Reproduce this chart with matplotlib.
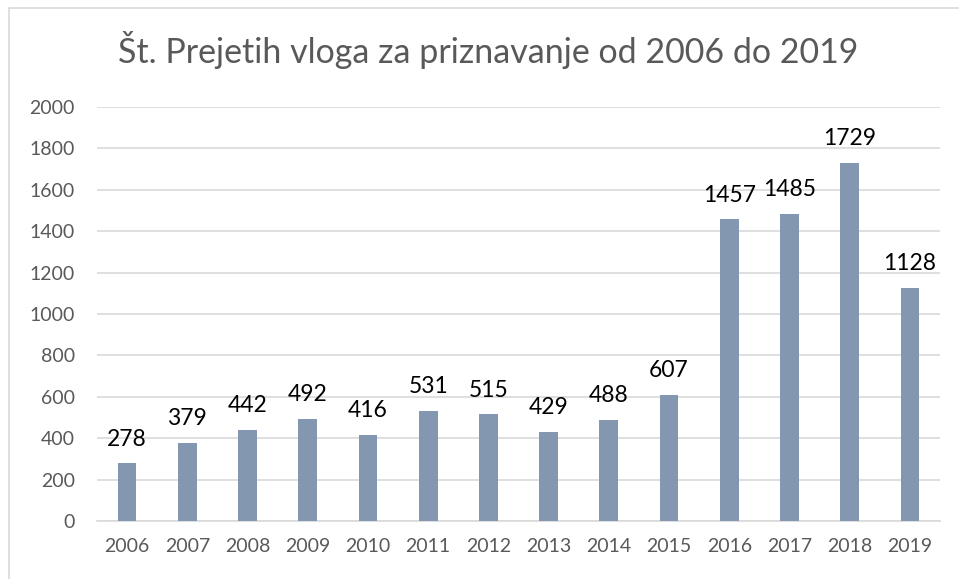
import matplotlib
matplotlib.use("Agg")
import matplotlib.pyplot as plt
from matplotlib.patches import Rectangle

years = [str(y) for y in range(2006, 2020)]
vloge = [278, 379, 442, 492, 416, 531, 515, 429, 488, 607, 1457, 1485, 1729, 1128]
yticks = [0, 200, 400, 600, 800, 1000, 1200, 1400, 1600, 1800, 2000]

plt.rcParams['font.family'] = ['Lato', 'DejaVu Sans']

fig = plt.figure(figsize=(9.59, 5.79), dpi=100)
fig.patches.append(Rectangle((9 / 959, -0.1), 1.2, 1 - 8 / 579 + 0.1, transform=fig.transFigure,
                             fill=False, edgecolor='#d9d9d9', linewidth=1.2))

ax = fig.add_axes([97 / 959, 1 - 521 / 579, 843 / 959, (521 - 107) / 579])
x = range(len(years))
bars = ax.bar(x, vloge, width=0.31, color='#8497b0', zorder=3)
for xi, v in zip(x, vloge):
    ax.annotate(str(v), (xi, v), xytext=(0, 10), textcoords='offset points',
                ha='center', va='bottom', fontsize=16.5, color='black')

ax.set_xlim(-0.5, len(years) - 0.5)
ax.set_ylim(0, 2000)
ax.set_yticks(yticks)
ax.set_xticks(list(x))
ax.set_xticklabels(years)
ax.yaxis.grid(True, color='#d9d9d9', linewidth=1.2, zorder=0)
ax.tick_params(axis='both', length=0, labelsize=14, labelcolor='#595959')
ax.tick_params(axis='y', pad=16)
ax.tick_params(axis='x', pad=12)
for s in ['top', 'right', 'left']:
    ax.spines[s].set_visible(False)
ax.spines['bottom'].set_color('#d9d9d9')
ax.spines['bottom'].set_linewidth(1.2)

fig.text(488 / 959, 1 - 50 / 579, 'Št. Prejetih vloga za priznavanje od 2006 do 2019',
         ha='center', va='center', fontsize=24.5, color='#595959')

fig.savefig('out.png', dpi=100)
